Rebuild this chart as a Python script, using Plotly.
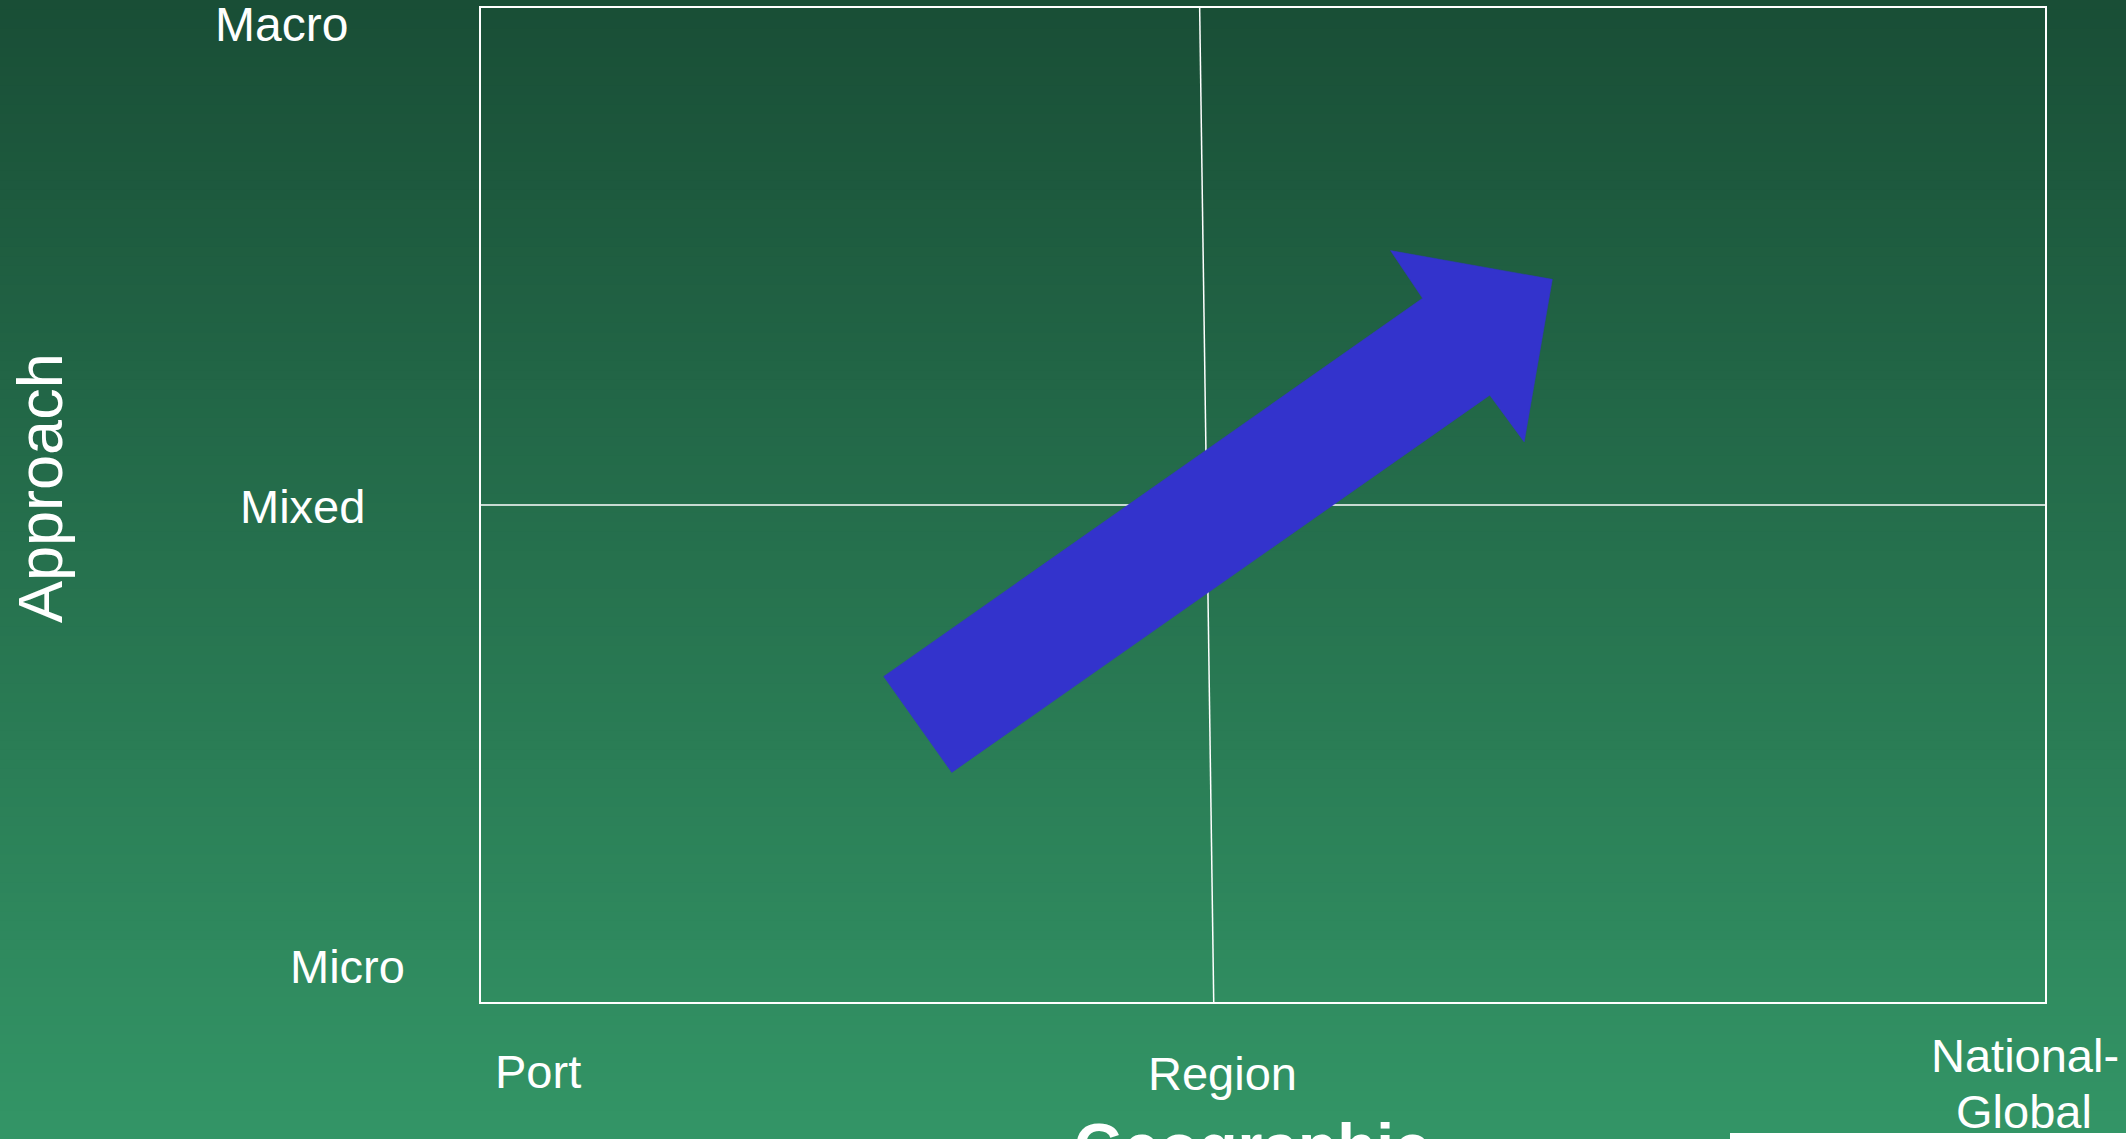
import plotly.graph_objects as go

W, H = 2126, 1139

# ---- data ----
y_labels = ["Micro", "Mixed", "Macro"]
x_labels = ["Port", "Region", "National-", "Global"]
x_title = "Geographic"
y_title = "Approach"

# quadrant dividers (axis units: x 0..2, y 0..2)
h_divider_x = [0, 2]
h_divider_y = [1, 1]
v_divider_x = [0.919, 0.937]
v_divider_y = [2, 0]

# arrow outline (axis units)
arrow_x = [0.515, 1.204, 1.163, 1.370, 1.334, 1.290, 0.602, 0.515]
arrow_y = [0.655, 1.416, 1.512, 1.454, 1.127, 1.221, 0.462, 0.655]

# ---- layout helpers ----
def px(x):
    return x / W

def py(y):
    return 1 - y / H

box_l, box_r, box_t, box_b = 481, 2045, 8, 1002

fig = go.Figure()

fig.add_trace(go.Scatter(x=h_divider_x, y=h_divider_y, mode="lines",
                         line=dict(color="white", width=1.5), hoverinfo="skip"))
fig.add_trace(go.Scatter(x=v_divider_x, y=v_divider_y, mode="lines",
                         line=dict(color="white", width=1.5), hoverinfo="skip"))
fig.add_trace(go.Scatter(x=arrow_x, y=arrow_y, mode="lines", fill="toself",
                         fillcolor="#3333CC", line=dict(color="#3333CC", width=0.5),
                         hoverinfo="skip"))

# background gradient
shapes = []
top = (25, 78, 54)
bot = (51, 149, 102)
n = 120
for i in range(n):
    t = i / (n - 1)
    c = tuple(round(top[k] + (bot[k] - top[k]) * t) for k in range(3))
    shapes.append(dict(type="rect", xref="paper", yref="paper",
                       x0=0, x1=1, y0=1 - (i + 1) / n - 0.002, y1=1 - i / n,
                       fillcolor="rgb(%d,%d,%d)" % c, line=dict(width=0),
                       layer="below"))
# white bar bottom right
shapes.append(dict(type="rect", xref="paper", yref="paper",
                   x0=px(1730), x1=1, y0=0, y1=py(1133),
                   fillcolor="white", line=dict(width=0)))

font = "Liberation Sans, Arial, sans-serif"
ann = []
def label(text, x, y, size=47, bold=False, angle=0):
    ann.append(dict(text=("<b>%s</b>" % text) if bold else text,
                    xref="paper", yref="paper", x=px(x), y=py(y),
                    xanchor="center", yanchor="middle", showarrow=False,
                    textangle=angle,
                    font=dict(family=font, size=size, color="white")))

label(y_labels[2], 281, 25, size=48)
label(y_labels[1], 302, 506)
label(y_labels[0], 347, 966)
label(x_labels[0], 538, 1071)
label(x_labels[1], 1222, 1073)
label(x_labels[2], 2025, 1055)
label(x_labels[3], 2024, 1111)
label(y_title, 40, 488, size=63, angle=-90)
label(x_title, 1252, 1147, size=64, bold=True)

fig.update_layout(
    width=W, height=H,
    margin=dict(l=0, r=0, t=0, b=0),
    paper_bgcolor="rgb(25,78,54)",
    plot_bgcolor="rgba(0,0,0,0)",
    showlegend=False,
    shapes=shapes,
    annotations=ann,
    xaxis=dict(domain=[px(box_l), px(box_r)], range=[0, 2], showgrid=False,
               zeroline=False, showticklabels=False, showline=True,
               linecolor="white", linewidth=2, mirror=True, ticks=""),
    yaxis=dict(domain=[py(box_b), py(box_t)], range=[0, 2], showgrid=False,
               zeroline=False, showticklabels=False, showline=True,
               linecolor="white", linewidth=2, mirror=True, ticks=""),
)

fig.write_html("out.html", config={"displayModeBar": False},
               post_script="document.body.style.margin='0';document.body.style.overflow='hidden';")
